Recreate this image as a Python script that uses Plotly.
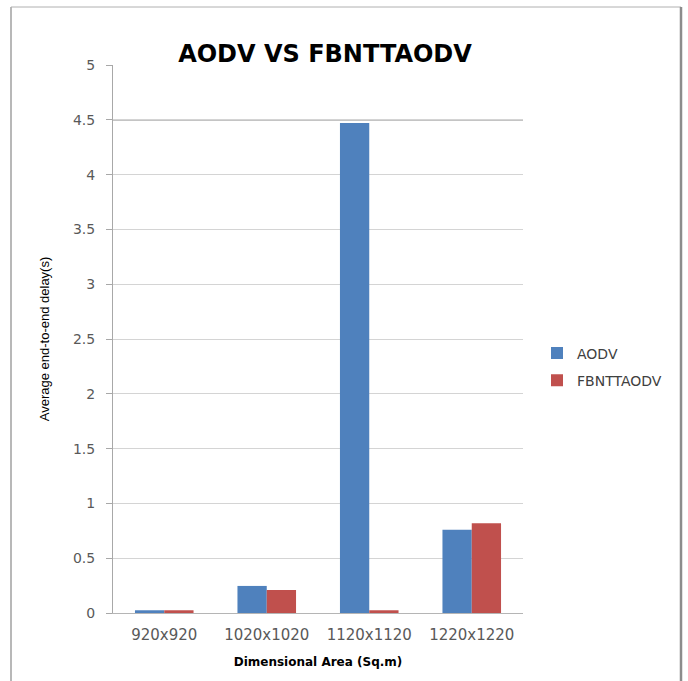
import plotly.graph_objects as go

# Simulation results: average end-to-end delay per network area
areas = ["920x920", "1020x1020", "1120x1120", "1220x1220"]
aodv_delay = [0.025, 0.247, 4.47, 0.76]
fbnttaodv_delay = [0.025, 0.21, 0.025, 0.82]
y_ticks = [0, 0.5, 1, 1.5, 2, 2.5, 3, 3.5, 4, 4.5, 5]
y_tick_labels = ["0", "0.5", "1", "1.5", "2", "2.5", "3", "3.5", "4", "4.5", "5"]

BLUE = "#4F81BD"
RED = "#C0504D"
TICK_FONT = dict(family="DejaVu Sans", size=14, color="#595959")

W, H = 688, 681
L, R, T, B = 113, 165, 65, 68
pw, ph = W - L - R, H - T - B


def px(x):
    return (x - L) / pw


def py(y):
    return (H - B - y) / ph


fig = go.Figure()
fig.add_trace(go.Bar(x=areas, y=aodv_delay, name="AODV", marker_color=BLUE,
                     marker_line_width=0, legendgroup="a"))
fig.add_trace(go.Bar(x=areas, y=fbnttaodv_delay, name="FBNTTAODV", marker_color=RED,
                     marker_line_width=0, legendgroup="b"))

shapes = [
    # emphasised gridline at 4.5
    dict(type="line", xref="paper", yref="y", x0=0, x1=1, y0=4.5, y1=4.5,
         line=dict(color="#8a8a8a", width=1.5), layer="below"),
    # frame around the chart
    dict(type="line", xref="paper", yref="paper", x0=px(11), x1=px(11), y0=py(7), y1=py(700),
         line=dict(color="#a0a0a0", width=1.5)),
    dict(type="line", xref="paper", yref="paper", x0=px(11), x1=px(681), y0=py(7), y1=py(7),
         line=dict(color="#b0b0b0", width=1)),
    dict(type="line", xref="paper", yref="paper", x0=px(681), x1=px(681), y0=py(7), y1=py(700),
         line=dict(color="#8c8c8c", width=2.5)),
]

fig.update_layout(
    width=W, height=H,
    margin=dict(l=L, r=R, t=T, b=B),
    paper_bgcolor="white", plot_bgcolor="white",
    barmode="group", bargap=1.5 / 3.5, bargroupgap=0,
    title=dict(text="<b>AODV VS FBNTTAODV</b>", xref="container", x=325 / W,
               xanchor="center", yref="container", y=1 - 54 / H, yanchor="middle",
               font=dict(family="DejaVu Sans", size=24, color="black")),
    showlegend=True,
    legend=dict(x=px(537), y=py(367), xanchor="left", yanchor="middle",
                font=dict(family="DejaVu Sans", size=14, color="#404040"),
                traceorder="grouped", tracegroupgap=6, itemwidth=30,
                bgcolor="rgba(0,0,0,0)"),
    shapes=shapes,
)

fig.update_xaxes(
    showgrid=False, showline=True, linecolor="#b5b5b5", linewidth=1,
    ticks="", tickfont=dict(family="DejaVu Sans", size=15, color="#595959"),
    ticklabelstandoff=8,
    title=dict(text="<b>Dimensional Area (Sq.m)</b>", standoff=14,
               font=dict(family="DejaVu Sans", size=12, color="black")),
)
fig.update_yaxes(
    range=[0, 5], tickvals=y_ticks, ticktext=y_tick_labels,
    showgrid=True, gridcolor="#d4d4d4", gridwidth=1,
    showline=True, linecolor="#a8a8a8", linewidth=1,
    ticks="outside", ticklen=6, tickcolor="#a8a8a8",
    tickfont=TICK_FONT, zeroline=False, ticklabelstandoff=8,
    title=dict(text="Average end-to-end delay(s)", standoff=20,
               font=dict(family="Liberation Sans", size=13, color="black")),
)

fig.write_html("out.html")
